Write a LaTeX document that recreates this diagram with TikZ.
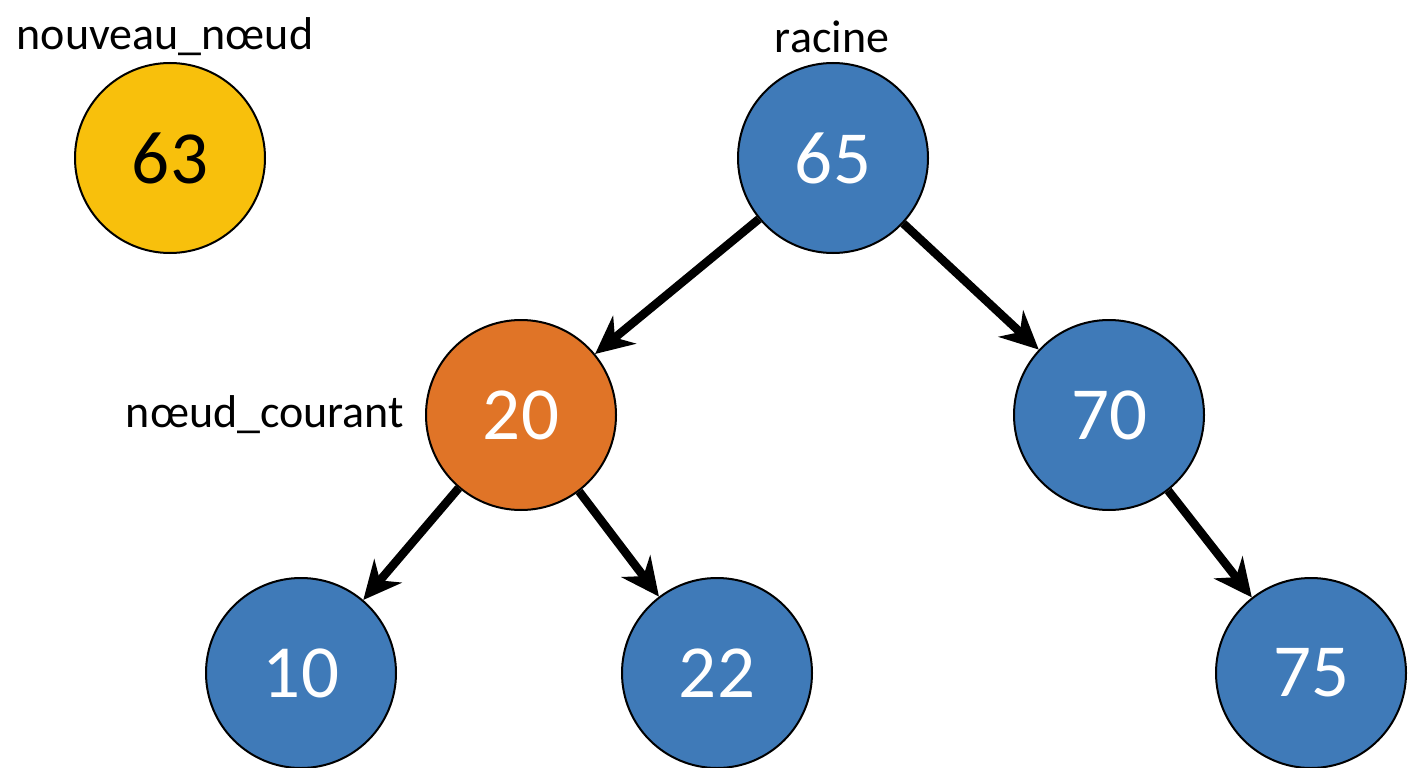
\documentclass[tikz,border=0pt]{standalone}
\usepackage{fontspec}
\setmainfont{Carlito}
\usetikzlibrary{arrows.meta}
\definecolor{nblue}{HTML}{3F7AB8}
\definecolor{norange}{HTML}{E07427}
\definecolor{nyellow}{HTML}{F8C00C}
\begin{document}
\begin{tikzpicture}[x=1pt,y=-1pt,
  tnode/.style={circle,draw=black,line width=2pt,minimum size=190pt,inner sep=0pt,
    font=\fontsize{75}{80}\selectfont,text=white,fill=nblue},
  lbl/.style={font=\fontsize{46}{52}\selectfont,text=black,inner sep=0pt},
  arr/.style={line width=8.5pt,-{Stealth[length=38pt,width=36pt]}}]
\useasboundingbox (0,0) rectangle (1408,768);
\fill[white] (0,0) rectangle (1408,768);
\node[tnode,fill=nyellow,text=black] (n63) at (170,158) {63};
\node[tnode] (n65) at (833,158) {65};
\node[tnode,fill=norange] (n20) at (521,415) {20};
\node[tnode] (n70) at (1109,415) {70};
\node[tnode] (n10) at (301,673) {10};
\node[tnode] (n22) at (717,673) {22};
\node[tnode] (n75) at (1311,673) {75};
\node[lbl] (l63) at (165,37) {nouveau\_nœud};
\node[lbl] (l65) at (832,37) {racine};
\node[lbl] (l20) at (265,415) {nœud\_courant};
\draw[arr] (n65) -- (n20);
\draw[arr] (n65) -- (n70);
\draw[arr] (n20) -- (n10);
\draw[arr] (n20) -- (n22);
\draw[arr] (n70) -- (n75);
\end{tikzpicture}
\end{document}
